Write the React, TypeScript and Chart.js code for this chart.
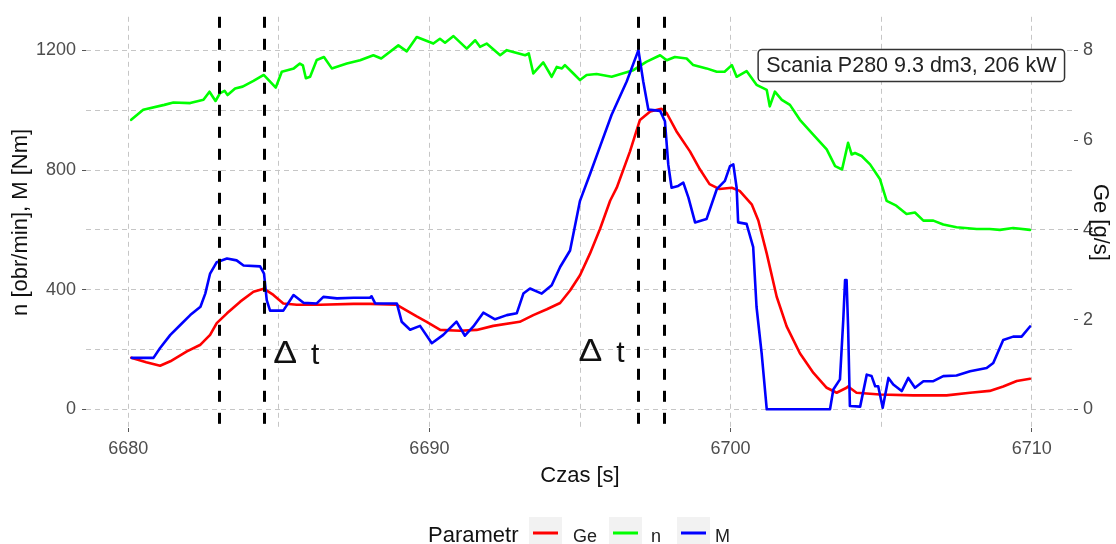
import React, { useEffect, useRef } from 'react';
import { Chart, registerables } from 'chart.js';

Chart.register(...registerables);

// ---------------- DATA ----------------
// Engine speed n [obr/min]
const nTime = [
  6680.10, 6680.50, 6681.20, 6681.50, 6682.06, 6682.50, 6682.70, 6682.90, 6683.05, 6683.20,
  6683.30, 6683.55, 6683.80, 6684.16, 6684.50, 6684.90, 6685.10, 6685.50, 6685.70, 6685.80,
  6685.90, 6686.04, 6686.26, 6686.50, 6686.76, 6687.26, 6687.70, 6688.14, 6688.40, 6688.97,
  6689.25, 6689.58, 6690.13, 6690.35, 6690.52, 6690.80, 6691.24, 6691.52, 6691.68, 6691.90,
  6692.35, 6692.57, 6693.18, 6693.30, 6693.45, 6693.78, 6694.06, 6694.23, 6694.40, 6694.50,
  6694.78, 6695.00, 6695.22, 6695.55, 6696.05, 6696.77, 6697.20, 6697.66, 6697.88, 6698.15,
  6698.54, 6698.76, 6699.20, 6699.54, 6699.80, 6700.04, 6700.20, 6700.53, 6700.86, 6701.20,
  6701.30, 6701.47, 6701.70, 6701.97, 6702.30, 6702.75, 6703.19, 6703.47, 6703.70, 6703.90,
  6704.02, 6704.13, 6704.35, 6704.63, 6704.96, 6705.18, 6705.50, 6705.84, 6706.12, 6706.40,
  6706.73, 6707.06, 6707.50, 6708.17, 6708.60, 6708.94, 6709.38, 6709.94,
];
const nValues = [
  968, 1002, 1018, 1026, 1024, 1035, 1062, 1031, 1057, 1065,
  1051, 1073, 1079, 1098, 1118, 1076, 1129, 1140, 1156, 1150,
  1107, 1112, 1168, 1178, 1140, 1156, 1167, 1184, 1173, 1217,
  1197, 1245, 1223, 1239, 1226, 1248, 1206, 1234, 1212, 1223,
  1184, 1201, 1184, 1190, 1123, 1160, 1112, 1145, 1140, 1151,
  1123, 1101, 1118, 1121, 1112, 1134, 1162, 1184, 1167, 1178,
  1173, 1151, 1140, 1129, 1129, 1151, 1112, 1131, 1085, 1068,
  1013, 1062, 1035, 1018, 968, 918, 869, 813, 802, 891,
  852, 857, 847, 819, 769, 697, 681, 653, 658, 631,
  631, 618, 609, 603, 603, 600, 606, 600,
];

// Fuel consumption Ge [g/s]
const geTime = [
  6680.10, 6680.60, 6681.06, 6681.40, 6681.95, 6682.40, 6682.72, 6682.94, 6683.28, 6683.72,
  6684.16, 6684.50, 6684.82, 6685.15, 6685.60, 6686.37, 6687.48, 6688.03, 6688.92, 6689.58,
  6689.91, 6690.36, 6691.02, 6691.57, 6692.12, 6693.00, 6693.45, 6693.90, 6694.34, 6694.67,
  6695.00, 6695.33, 6695.67, 6696.00, 6696.22, 6696.66, 6696.99, 6697.33, 6697.70, 6697.88,
  6698.20, 6698.65, 6698.98, 6699.30, 6699.63, 6700.04, 6700.30, 6700.70, 6700.92, 6701.20,
  6701.53, 6701.86, 6702.30, 6702.75, 6703.19, 6703.52, 6703.85, 6703.90, 6704.18, 6704.96,
  6706.06, 6707.17, 6707.95, 6708.60, 6709.05, 6709.50, 6709.94,
];
const geValues = [
  1.15, 1.05, 0.97, 1.07, 1.29, 1.44, 1.66, 1.92, 2.14, 2.40,
  2.62, 2.69, 2.55, 2.36, 2.33, 2.33, 2.35, 2.35, 2.33, 2.07,
  1.95, 1.77, 1.75, 1.77, 1.86, 1.95, 2.10, 2.23, 2.37, 2.65,
  2.99, 3.47, 4.03, 4.65, 4.94, 5.75, 6.45, 6.64, 6.70, 6.60,
  6.20, 5.75, 5.35, 5.02, 4.91, 4.94, 4.87, 4.57, 4.21, 3.47,
  2.51, 1.85, 1.25, 0.81, 0.48, 0.37, 0.48, 0.51, 0.37, 0.33,
  0.31, 0.31, 0.37, 0.41, 0.51, 0.63, 0.68,
];

// Torque M [Nm]
const mTime = [
  6680.12, 6680.84, 6681.06, 6681.40, 6681.73, 6682.06, 6682.40, 6682.56, 6682.72, 6682.94,
  6683.28, 6683.60, 6683.83, 6684.38, 6684.51, 6684.60, 6684.71, 6685.15, 6685.49, 6685.82,
  6686.26, 6686.48, 6686.93, 6687.48, 6688.03, 6688.08, 6688.20, 6688.92, 6689.08, 6689.36,
  6689.69, 6690.08, 6690.46, 6690.90, 6691.18, 6691.46, 6691.79, 6692.18, 6692.57, 6692.90,
  6693.12, 6693.34, 6693.73, 6694.06, 6694.34, 6694.67, 6695.00, 6695.33, 6695.67, 6696.05,
  6696.55, 6696.94, 6697.10, 6697.27, 6697.66, 6697.82, 6697.93, 6698.04, 6698.26, 6698.43,
  6698.60, 6698.82, 6699.20, 6699.54, 6699.81, 6699.98, 6700.09, 6700.20, 6700.25, 6700.53,
  6700.75, 6700.86, 6701.03, 6701.20, 6703.30, 6703.41, 6703.63, 6703.74, 6703.80, 6703.85,
  6703.90, 6703.96, 6704.30, 6704.52, 6704.68, 6704.80, 6704.90, 6705.05, 6705.24, 6705.40,
  6705.68, 6705.90, 6706.12, 6706.40, 6706.73, 6707.06, 6707.50, 6707.95, 6708.50, 6708.72,
  6709.05, 6709.38, 6709.66, 6709.94,
];
const mValues = [
  172, 172, 205, 249, 282, 315, 343, 387, 454, 492,
  504, 498, 481, 478, 454, 365, 330, 330, 382, 356,
  354, 376, 371, 373, 373, 378, 354, 354, 293, 266,
  279, 221, 249, 293, 246, 277, 323, 301, 315, 321,
  387, 404, 387, 415, 476, 531, 697, 786, 880, 985,
  1096, 1201, 1096, 1002, 998, 963, 819, 741, 747, 758,
  708, 625, 636, 736, 764, 813, 819, 741, 625, 620,
  542, 343, 188, 0, 0, 66, 100, 299, 432, 432,
  277, 11, 9, 116, 111, 77, 77, 5, 105, 83,
  61, 105, 72, 94, 94, 111, 113, 127, 138, 155,
  232, 243, 243, 277,
];

// Axis ticks
const xTickValues = [6680, 6685, 6690, 6695, 6700, 6705, 6710];
const xLabelledTicks = [6680, 6690, 6700, 6710];
const yTickValues = [0, 200, 400, 600, 800, 1000, 1200];
const yLabelledTicks = [0, 400, 800, 1200];
const y2TickValues = [0, 2, 4, 6, 8];

// Annotations
const deltaLineTimes = [6683.0, 6684.5, 6696.93, 6697.8];
const deltaLabelTimes = [6685.58, 6695.71];
const deltaLabelValues = [180, 186];
const noteText = 'Scania P280 9.3 dm3, 206 kW';
const noteTime = 6706.0;
const noteValue = 1150;

const seriesNames = ['Ge', 'n', 'M'];
const seriesColors = ['#FF0000', '#00FF00', '#0000FF'];
const legendTitle = 'Parametr';
const xTitle = 'Czas [s]';
const yTitle = 'n [obr/min], M [Nm]';
const y2Title = 'Ge [g/s]';

// Scale ranges (ggplot expansion)
const xMin = 6678.6;
const xMax = 6711.4;
const yMin = -62.5;
const yMax = 1312.5;
const geScale = 150; // 8 g/s <-> 1200

const FONT = '"Liberation Sans", Arial, Helvetica, sans-serif';

const toPoints = (ts: number[], vs: number[]) => ts.map((t, i) => ({ x: t, y: vs[i] }));

const overlayPlugin = {
  id: 'overlay',
  afterDatasetsDraw(chart: any) {
    const { ctx, chartArea, scales } = chart;
    const xs = scales.x;
    const ys = scales.y;
    ctx.save();
    // vertical dashed lines
    ctx.strokeStyle = '#000';
    ctx.lineWidth = 3;
    ctx.setLineDash([11, 11]);
    for (const t of deltaLineTimes) {
      const px = Math.round(xs.getPixelForValue(t)) + 0.5;
      ctx.beginPath();
      ctx.moveTo(px, chartArea.top);
      ctx.lineTo(px, chartArea.bottom);
      ctx.stroke();
    }
    ctx.setLineDash([]);
    // delta t labels
    ctx.fillStyle = '#111';
    ctx.textAlign = 'center';
    ctx.textBaseline = 'middle';
    deltaLabelTimes.forEach((t, i) => {
      const cx = xs.getPixelForValue(t);
      const cy = ys.getPixelForValue(deltaLabelValues[i]);
      ctx.save();
      ctx.font = `31px ${FONT}`;
      ctx.translate(cx - 11, cy - 1);
      ctx.scale(1.15, 1);
      ctx.fillText('\u0394', 0, 0);
      ctx.restore();
      ctx.font = `30px ${FONT}`;
      ctx.fillText('t', cx + 19, cy);
    });
    // note label
    ctx.font = `21.5px ${FONT}`;
    const tw = ctx.measureText(noteText).width;
    const cx = xs.getPixelForValue(noteTime);
    const cy = ys.getPixelForValue(noteValue);
    const w = tw + 16;
    const h = 32;
    ctx.beginPath();
    ctx.roundRect(cx - w / 2, cy - h / 2, w, h, 4);
    ctx.fillStyle = '#fff';
    ctx.fill();
    ctx.lineWidth = 1.5;
    ctx.strokeStyle = '#333';
    ctx.stroke();
    ctx.fillStyle = '#222';
    ctx.fillText(noteText, cx, cy + 1);
    ctx.restore();
  },
  afterDraw(chart: any) {
    const { ctx, chartArea } = chart;
    const midY = (chartArea.top + chartArea.bottom) / 2;
    const midX = (chartArea.left + chartArea.right) / 2;
    ctx.save();
    ctx.fillStyle = '#111';
    ctx.font = `22px ${FONT}`;
    ctx.textAlign = 'center';
    ctx.textBaseline = 'middle';
    ctx.fillText(xTitle, midX, 476);
    ctx.save();
    ctx.translate(21, midY);
    ctx.rotate(-Math.PI / 2);
    ctx.fillText(yTitle, 0, 0);
    ctx.restore();
    ctx.save();
    ctx.translate(1100, midY);
    ctx.rotate(Math.PI / 2);
    ctx.fillText(y2Title, 0, 0);
    ctx.restore();
    // legend
    ctx.textAlign = 'left';
    ctx.textBaseline = 'alphabetic';
    ctx.font = `22px ${FONT}`;
    ctx.fillText(legendTitle, 428, 542);
    const keyX = [529, 609, 677];
    const labelX = [573, 651, 715];
    ctx.font = `18px ${FONT}`;
    seriesNames.forEach((name, i) => {
      ctx.fillStyle = '#F2F2F2';
      ctx.fillRect(keyX[i], 517, 33, 34);
      ctx.strokeStyle = seriesColors[i];
      ctx.lineWidth = 3;
      ctx.beginPath();
      ctx.moveTo(keyX[i] + 4, 533);
      ctx.lineTo(keyX[i] + 29, 533);
      ctx.stroke();
      ctx.fillStyle = '#222';
      ctx.fillText(name, labelX[i], 542);
    });
    ctx.restore();
  },
};

const gridColor = '#c6c6c6';
const tickColor = '#555';
const labelColor = '#4d4d4d';

export default function App() {
  const ref = useRef<HTMLCanvasElement>(null);
  useEffect(() => {
    document.body.style.margin = '0';
    Chart.defaults.font.family = FONT;
    const chart = new Chart(ref.current as HTMLCanvasElement, {
      type: 'line',
      data: {
        datasets: [
          {
            label: seriesNames[0],
            data: toPoints(geTime, geValues),
            yAxisID: 'y1',
            borderColor: seriesColors[0],
            order: 2,
          },
          {
            label: seriesNames[1],
            data: toPoints(nTime, nValues),
            yAxisID: 'y',
            borderColor: seriesColors[1],
            order: 1,
          },
          {
            label: seriesNames[2],
            data: toPoints(mTime, mValues),
            yAxisID: 'y',
            borderColor: seriesColors[2],
            order: 0,
          },
        ] as any,
      },
      options: {
        responsive: false,
        animation: false,
        devicePixelRatio: 1,
        layout: { padding: { top: 14, left: 0, right: 0, bottom: 0 } },
        elements: {
          point: { radius: 0 },
          line: { borderWidth: 2.6, tension: 0, fill: false, borderJoinStyle: 'round', borderCapStyle: 'round' },
        },
        plugins: { legend: { display: false }, tooltip: { enabled: false } },
        scales: {
          x: {
            type: 'linear',
            min: xMin,
            max: xMax,
            afterBuildTicks: (s: any) => {
              s.ticks = xTickValues.map((v) => ({ value: v }));
            },
            afterFit: (s: any) => {
              s.height = 116;
            },
            ticks: {
              autoSkip: false,
              maxRotation: 0,
              padding: 6,
              color: labelColor,
              font: { size: 18 },
              callback: (v: any) => (xLabelledTicks.includes(Number(v)) ? String(v) : ''),
            },
            grid: {
              color: gridColor,
              lineWidth: 1,
              tickLength: 4,
              tickWidth: 1,
              tickBorderDash: [],
              tickColor: (c: any) => (c.tick && xLabelledTicks.includes(c.tick.value) ? tickColor : 'rgba(0,0,0,0)'),
            },
            border: { display: false, dash: [5, 4] },
          },
          y: {
            type: 'linear',
            position: 'left',
            min: yMin,
            max: yMax,
            afterBuildTicks: (s: any) => {
              s.ticks = yTickValues.map((v) => ({ value: v }));
            },
            afterFit: (s: any) => {
              s.width = 86;
            },
            ticks: {
              autoSkip: false,
              padding: 6,
              color: labelColor,
              font: { size: 18 },
              callback: (v: any) => (yLabelledTicks.includes(Number(v)) ? String(v) : ''),
            },
            grid: {
              color: gridColor,
              lineWidth: 1,
              tickLength: 4,
              tickWidth: 1,
              tickBorderDash: [],
              tickColor: (c: any) => (c.tick && yLabelledTicks.includes(c.tick.value) ? tickColor : 'rgba(0,0,0,0)'),
            },
            border: { display: false, dash: [5, 4] },
          },
          y1: {
            type: 'linear',
            position: 'right',
            min: yMin / geScale,
            max: yMax / geScale,
            afterBuildTicks: (s: any) => {
              s.ticks = y2TickValues.map((v) => ({ value: v }));
            },
            afterFit: (s: any) => {
              s.width = 42;
            },
            ticks: {
              autoSkip: false,
              padding: 5,
              color: labelColor,
              font: { size: 18 },
              callback: (v: any) => String(v),
            },
            grid: {
              drawOnChartArea: false,
              tickLength: 4,
              tickWidth: 1,
              tickColor: tickColor,
            },
            border: { display: false },
          },
        },
      } as any,
      plugins: [overlayPlugin],
    });
    return () => chart.destroy();
  }, []);
  return (
    <div style={{ position: 'absolute', left: 0, top: 0, width: 1116, height: 544, background: '#fff' }}>
      <canvas ref={ref} width={1116} height={544} style={{ display: 'block' }} />
    </div>
  );
}
